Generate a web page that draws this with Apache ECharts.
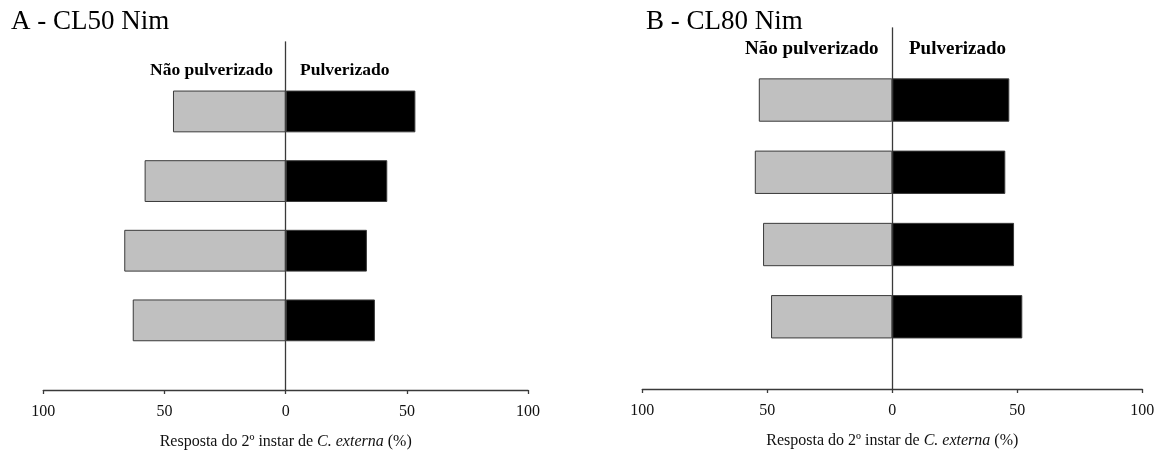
<!DOCTYPE html>
<html>
<head>
<meta charset="utf-8">
<script src="https://cdn.jsdelivr.net/npm/echarts@6/dist/echarts.min.js"></script>
<style>html,body{margin:0;padding:0;background:#fff}#c{width:1161px;height:455px}</style>
</head>
<body>
<div id="c"></div>
<script>
// Data (percent response, 4 rows top to bottom)
const rows = ['1', '2', '3', '4'];
const naoPulvA = [46.5, 58.2, 66.6, 63.1];
const pulvA    = [53.5, 41.9, 33.5, 36.8];
const naoPulvB = [53.4, 55.0, 51.7, 48.5];
const pulvB    = [46.8, 45.2, 48.7, 52.0];
const xTicks = [-100, -50, 0, 50, 100];
const titleA = 'A - CL50 Nim';
const titleB = 'B - CL80 Nim';
const leftLabel = 'Não pulverizado';
const rightLabel = 'Pulverizado';

const SERIF = "'Liberation Serif', 'DejaVu Serif', serif";
const LINE = '#3a3a3a';
const pad = arr => [null, ...arr, null];
const cats = ['', ...rows, ''];

function xAxisCfg(gi) {
  return {
    gridIndex: gi, type: 'value', min: xTicks[0], max: xTicks[xTicks.length - 1], interval: 50,
    splitLine: { show: false },
    axisLine: { show: true, onZero: false, lineStyle: { color: LINE, width: 1.3 } },
    axisTick: { show: true, inside: false, length: 4, lineStyle: { color: LINE, width: 1.3 } },
    axisLabel: { formatter: v => String(Math.abs(v)), fontFamily: SERIF, fontSize: 16, color: '#111', margin: 14 },
    name: '{n|Resposta do 2º instar de }{i|C. externa}{n| (%)}',
    nameLocation: 'middle', nameGap: 44,
    nameTextStyle: {
      fontFamily: SERIF, fontSize: 16, color: '#111',
      rich: {
        n: { fontFamily: SERIF, fontSize: 16, color: '#111' },
        i: { fontFamily: SERIF, fontSize: 16, color: '#111', fontStyle: 'italic' }
      }
    }
  };
}
function yAxisCfg(gi) {
  return {
    gridIndex: gi, type: 'category', data: cats, inverse: true, boundaryGap: false,
    axisLine: { show: true, onZero: true, lineStyle: { color: LINE, width: 1.3 } },
    axisTick: { show: false }, axisLabel: { show: false }, splitLine: { show: false }
  };
}
function barSeries(gi, name, vals, neg, color) {
  return {
    type: 'bar', name, xAxisIndex: gi, yAxisIndex: gi, stack: 'g' + gi,
    data: pad(vals.map(v => neg ? -v : v)),
    barWidth: '60%',
    itemStyle: { color, borderColor: LINE, borderWidth: 1 },
    z: 1
  };
}

const chart = echarts.init(document.getElementById('c'), null, { renderer: 'canvas' });
chart.setOption({
  animation: false,
  backgroundColor: '#fff',
  title: [
    { text: titleA, left: 11, top: 8, padding: 0, textStyle: { fontFamily: SERIF, fontSize: 27, fontWeight: 'normal', color: '#000' } },
    { text: titleB, left: 646, top: 8, padding: 0, textStyle: { fontFamily: SERIF, fontSize: 27, fontWeight: 'normal', color: '#000' } }
  ],
  grid: [
    { left: 43.3, top: 41.8, width: 484.8, height: 348.2, containLabel: false, outerBoundsMode: 'none' },
    { left: 642.3, top: 27.8, width: 500, height: 361.2, containLabel: false, outerBoundsMode: 'none' }
  ],
  xAxis: [xAxisCfg(0), xAxisCfg(1)],
  yAxis: [yAxisCfg(0), yAxisCfg(1)],
  series: [
    barSeries(0, leftLabel, naoPulvA, true, '#c0c0c0'),
    barSeries(0, rightLabel, pulvA, false, '#000000'),
    barSeries(1, leftLabel, naoPulvB, true, '#c0c0c0'),
    barSeries(1, rightLabel, pulvB, false, '#000000')
  ],
  graphic: [
    { type: 'text', x: 273, y: 70, style: { text: leftLabel, align: 'right', verticalAlign: 'middle', font: "bold 17.5px 'Liberation Serif', serif", fill: '#000' } },
    { type: 'text', x: 300, y: 70, style: { text: rightLabel, align: 'left', verticalAlign: 'middle', font: "bold 17.5px 'Liberation Serif', serif", fill: '#000' } },
    { type: 'text', x: 878.5, y: 49, style: { text: leftLabel, align: 'right', verticalAlign: 'middle', font: "bold 19px 'Liberation Serif', serif", fill: '#000' } },
    { type: 'text', x: 909, y: 49, style: { text: rightLabel, align: 'left', verticalAlign: 'middle', font: "bold 19px 'Liberation Serif', serif", fill: '#000' } }
  ]
});
</script>
</body>
</html>
